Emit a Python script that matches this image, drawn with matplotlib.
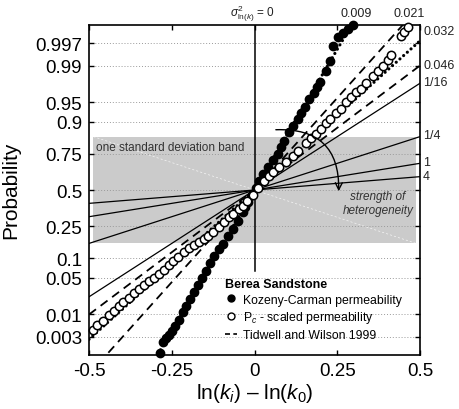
import numpy as np
import matplotlib
matplotlib.use('Agg')
from matplotlib import pyplot as plt
from matplotlib.lines import Line2D
from statistics import NormalDist

plt.rcParams['font.family'] = ['Liberation Sans', 'DejaVu Sans']
plt.rcParams['mathtext.fontset'] = 'custom'
plt.rcParams['mathtext.rm'] = 'Liberation Sans'
plt.rcParams['mathtext.it'] = 'Liberation Sans:italic'
plt.rcParams['axes.unicode_minus'] = False

# Kozeny-Carman permeability (filled circles)
kc_x = [-0.285, -0.276, -0.267, -0.258, -0.249, -0.239, -0.227, -0.215, -0.206, -0.194,
        -0.182, -0.170, -0.158, -0.146, -0.134, -0.122, -0.107, -0.095, -0.080, -0.065,
        -0.050, -0.035, -0.029, -0.020, -0.008, 0.005, 0.014, 0.026, 0.041, 0.056,
        0.071, 0.080, 0.089, 0.104, 0.116, 0.131, 0.140, 0.152, 0.164, 0.179,
        0.188, 0.197, 0.215, 0.227, 0.236, 0.251, 0.267, 0.282, 0.297]
kc_p = [0.0011, 0.0022, 0.0028, 0.0033, 0.0041, 0.0054, 0.0075, 0.0112, 0.0149, 0.0207,
        0.028, 0.0376, 0.0497, 0.0646, 0.0858, 0.108, 0.135, 0.156, 0.195, 0.233,
        0.281, 0.340, 0.375, 0.411, 0.463, 0.515, 0.567, 0.618, 0.667, 0.713,
        0.750, 0.790, 0.821, 0.861, 0.885, 0.908, 0.925, 0.940, 0.956, 0.965,
        0.973, 0.978, 0.987, 0.992, 0.9965, 0.9979, 0.9984, 0.9987, 0.999]

# Pc - scaled permeability (open circles)
pc_x = [-0.489, -0.477, -0.459, -0.441, -0.426, -0.411, -0.396, -0.378, -0.363, -0.348,
        -0.333, -0.318, -0.303, -0.288, -0.273, -0.258, -0.245, -0.230, -0.212, -0.197,
        -0.182, -0.167, -0.152, -0.140, -0.125, -0.107, -0.092, -0.077, -0.065, -0.047,
        -0.035, -0.023, -0.005, 0.011, 0.029, 0.044, 0.056, 0.074, 0.095, 0.116,
        0.131, 0.155, 0.170, 0.185, 0.200, 0.215, 0.227, 0.245, 0.260, 0.276,
        0.291, 0.306, 0.321, 0.336, 0.357, 0.372, 0.387, 0.402, 0.411, 0.441,
        0.453, 0.465]
pc_p = [0.0044, 0.0057, 0.0071, 0.0096, 0.0117, 0.0149, 0.018, 0.0216, 0.0269, 0.0319,
        0.0376, 0.0442, 0.0497, 0.0579, 0.0671, 0.0801, 0.0918, 0.1048, 0.1228, 0.1387,
        0.1515, 0.165, 0.179, 0.1946, 0.2157, 0.2442, 0.2746, 0.3066, 0.3267, 0.361,
        0.382, 0.418, 0.463, 0.515, 0.567, 0.603, 0.632, 0.667, 0.700, 0.738,
        0.767, 0.811, 0.835, 0.853, 0.873, 0.895, 0.908, 0.925, 0.935, 0.950,
        0.959, 0.967, 0.971, 0.9775, 0.9836, 0.987, 0.9899, 0.9925, 0.9943, 0.998,
        0.9985, 0.9989]

# variances of ln(k) for the reference lines
solid_var = [1/16, 1/4, 1, 4]
dashed_var = [0.021, 0.046]   # Tidwell and Wilson 1999
dotted_var = [0.009, 0.032]

right_labels = ['0.032', '0.046', '1/16', '1/4', '1', '4']
top_labels = ['0.009', '0.021']

yticks = [0.003, 0.01, 0.05, 0.1, 0.25, 0.5, 0.75, 0.9, 0.95, 0.99, 0.997]
xticks = [-0.5, -0.25, 0, 0.25, 0.5]

nd = NormalDist()


def probit(p):
    p = np.clip(np.asarray(p, dtype=float), 1e-12, 1 - 1e-12)
    return np.vectorize(nd.inv_cdf, otypes=[float])(p)


def cdf(z):
    z = np.asarray(z, dtype=float)
    return np.vectorize(nd.cdf, otypes=[float])(z)


fig = plt.figure(figsize=(4.59, 4.10), dpi=100)
ax = fig.add_axes([0.194, 0.1324, 0.7211, 0.8054])
ax.set_yscale('function', functions=(probit, cdf))
ax.set_xlim(-0.5, 0.5)
ax.set_ylim(nd.cdf(-3.085), nd.cdf(3.10))

# one standard deviation band
ax.fill_between([-0.487, 0.488], nd.cdf(-1), nd.cdf(1), color='#cbcbcb', lw=0, zorder=0.2)
ax.plot([-0.487, 0.488], [nd.cdf(1), nd.cdf(-1)], color='white', lw=0.5, ls=(0, (3, 3)),
        alpha=0.8, zorder=0.3)
ax.set_axisbelow(True)
ax.grid(axis='y', color='#9a9a9a', lw=0.7, ls=(0, (1, 2)))

xl = np.array([-0.5, 0.5])
for v in solid_var:
    ax.plot(xl, cdf(xl / np.sqrt(v)), color='k', lw=0.9, zorder=2)
for v in dashed_var:
    ax.plot(xl, cdf(xl / np.sqrt(v)), color='k', lw=1.3, dashes=(4.8, 3.2), zorder=2)
for v in dotted_var:
    ax.plot(xl, cdf(xl / np.sqrt(v)), color='k', lw=2.3, dashes=(0.01, 1.55),
            dash_capstyle='round', zorder=2)

# sigma^2 = 0 line
ax.plot([0, 0], [0.065, nd.cdf(3.10)], color='k', lw=1.1, zorder=2)

ax.plot(kc_x, kc_p, 'o', color='k', ms=6.0, zorder=4, clip_on=False)
ax.plot(pc_x, pc_p, 'o', mfc='white', mec='k', mew=1.1, ms=6.0, zorder=4, clip_on=False)

ax.set_yticks(yticks)
ax.set_yticklabels([str(t) for t in yticks])
ax.yaxis.set_minor_locator(matplotlib.ticker.NullLocator())
ax.set_xticks(xticks)
ax.set_xticklabels(['-0.5', '-0.25', '0', '0.25', '0.5'])
ax.tick_params(direction='in', top=True, right=True, length=3.5, width=1,
               labelsize=13.5, pad=5)
for s in ax.spines.values():
    s.set_linewidth(1.2)

ax.set_ylabel('Probability', fontsize=15)
ax.yaxis.set_label_coords(-0.208, 0.5)
ax.set_xlabel(r'ln($k_i$) – ln($k_0$)', fontsize=15, labelpad=2)

# labels for the lines
right_y = [0.980, 0.877, 0.826, 0.665, 0.584, 0.541]
for lab, y in zip(right_labels, right_y):
    ax.text(1.009, y, lab, transform=ax.transAxes, fontsize=9, color='#222',
            va='center', ha='left')
for lab, x in zip(top_labels, [0.807, 0.967]):
    ax.text(x, 1.035, lab, transform=ax.transAxes, fontsize=9, color='#222',
            va='center', ha='center')
ax.text(0.495, 1.035, r'$\sigma^2_{\ln(k)}$ = 0', transform=ax.transAxes, fontsize=8.5,
        color='#222', va='center', ha='center')

ax.text(0.021, 0.629, 'one standard deviation band', transform=ax.transAxes,
        fontsize=8.5, color='#333', va='center', ha='left')

ax.annotate('', xy=(0.254, 0.47), xytext=(0.056, 0.87),
            arrowprops=dict(arrowstyle='->,head_length=0.5,head_width=0.25',
                            connectionstyle='arc3,rad=-0.55', lw=1, color='k'),
            zorder=5)
ax.text(0.873, 0.459, 'strength of\nheterogeneity', transform=ax.transAxes,
        fontsize=8.5, style='italic', color='#333', ha='center', va='center',
        linespacing=1.2)

h1 = Line2D([], [], marker='o', color='k', ls='none', ms=5)
h2 = Line2D([], [], marker='o', mfc='white', mec='k', ls='none', ms=5)
h3 = Line2D([], [], color='k', lw=1.2, dashes=(3, 2))
leg = ax.legend([h1, h2, h3], ['Kozeny-Carman permeability', 'P$_c$ - scaled permeability',
                               'Tidwell and Wilson 1999'],
                title='Berea Sandstone', loc='upper left', bbox_to_anchor=(0.41, 0.232),
                frameon=False, fontsize=8.8, title_fontsize=9, handlelength=1.0,
                handletextpad=0.5, labelspacing=0.3, borderaxespad=0, borderpad=0)
leg.get_title().set_fontweight('bold')
leg._legend_box.align = 'left'

plt.savefig('out.png', dpi=100)
